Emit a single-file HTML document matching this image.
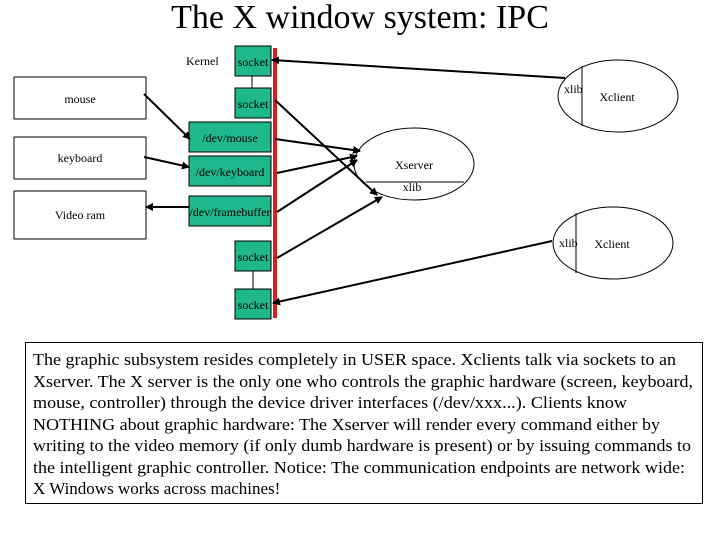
<!DOCTYPE html>
<html><head><style>
body{margin:0;background:#fff;}
svg{display:block;font-family:"Liberation Serif",serif;}
</style></head><body>
<svg width="720" height="540" viewBox="0 0 720 540" xmlns="http://www.w3.org/2000/svg">
<defs>
<marker id="a" markerWidth="8" markerHeight="8" refX="7" refY="4" orient="auto" markerUnits="userSpaceOnUse"><path d="M0,0 L8,4 L0,8 z" fill="#000"/></marker>
</defs>
<text x="360" y="28" font-size="34" text-anchor="middle">The X window system: IPC</text>
<text x="186" y="65" font-size="12">Kernel</text>
<g fill="#fff" stroke="#000" stroke-width="1">
<rect x="14" y="77" width="132" height="42"/>
<rect x="14" y="137" width="132" height="42"/>
<rect x="14" y="191" width="132" height="48"/>
</g>
<g font-size="12" text-anchor="middle">
<text x="80" y="103">mouse</text>
<text x="80" y="162">keyboard</text>
<text x="80" y="219">Video ram</text>
</g>
<line x1="252" y1="76" x2="252" y2="88" stroke="#000"/>
<line x1="253" y1="271" x2="253" y2="289" stroke="#000"/>
<g fill="#1fb88c" stroke="#000" stroke-width="1">
<rect x="235" y="46" width="36" height="30"/>
<rect x="235" y="88" width="36" height="30"/>
<rect x="189" y="122" width="82" height="30"/>
<rect x="189" y="156" width="82" height="30"/>
<rect x="189" y="196" width="82" height="30"/>
<rect x="235" y="241" width="36" height="30"/>
<rect x="235" y="289" width="36" height="30"/>
</g>
<g font-size="12" text-anchor="middle">
<text x="253" y="66">socket</text>
<text x="253" y="108">socket</text>
<text x="230" y="142">/dev/mouse</text>
<text x="230" y="176">/dev/keyboard</text>
<text x="230" y="216">/dev/framebuffer</text>
<text x="253" y="261">socket</text>
<text x="253" y="309">socket</text>
</g>
<rect x="273" y="48" width="4" height="270" fill="#d42020"/>
<g stroke="#000" stroke-width="2" fill="none" marker-end="url(#a)">
<line x1="144" y1="94" x2="190" y2="139"/>
<line x1="144" y1="157" x2="189" y2="167"/>
<line x1="189" y1="207" x2="146" y2="207"/>
<line x1="275" y1="139" x2="360" y2="151"/>
<line x1="277" y1="173" x2="357" y2="156"/>
<line x1="277" y1="212" x2="357" y2="160"/>
<line x1="275" y1="100" x2="377" y2="195"/>
<line x1="277" y1="258" x2="382" y2="197"/>
<line x1="565" y1="78" x2="272" y2="60"/>
<line x1="552" y1="241" x2="273" y2="303"/>
</g>
<g fill="none" stroke="#000" stroke-width="1">
<ellipse cx="414" cy="164" rx="60" ry="36"/>
<line x1="366" y1="182" x2="464" y2="182"/>
<ellipse cx="618" cy="96" rx="60" ry="36"/>
<line x1="582" y1="66" x2="582" y2="126"/>
<ellipse cx="613" cy="243" rx="60" ry="36"/>
<line x1="576" y1="213" x2="576" y2="273"/>
</g>
<g font-size="12">
<text x="414" y="169" text-anchor="middle">Xserver</text>
<text x="412" y="191" text-anchor="middle">xlib</text>
<text x="564" y="93">xlib</text>
<text x="617" y="101" text-anchor="middle">Xclient</text>
<text x="559" y="247">xlib</text>
<text x="612" y="248" text-anchor="middle">Xclient</text>
</g>
<rect x="25.5" y="342.5" width="677" height="161" fill="#fff" stroke="#000"/>
<g font-size="17">
<text x="33" y="365" textLength="643" lengthAdjust="spacingAndGlyphs">The graphic subsystem resides completely in USER space. Xclients talk via sockets to an</text>
<text x="33" y="387" textLength="660" lengthAdjust="spacingAndGlyphs">Xserver. The X server is the only one who controls the graphic hardware (screen, keyboard,</text>
<text x="33" y="408" textLength="594" lengthAdjust="spacingAndGlyphs">mouse, controller) through the device driver interfaces (/dev/xxx...).  Clients know</text>
<text x="33" y="430" textLength="627" lengthAdjust="spacingAndGlyphs">NOTHING about graphic hardware: The Xserver will render every command either by</text>
<text x="33" y="451" textLength="658" lengthAdjust="spacingAndGlyphs">writing to the video memory (if only dumb hardware is present) or by issuing commands to</text>
<text x="33" y="473" textLength="652" lengthAdjust="spacingAndGlyphs">the intelligent graphic controller. Notice: The communication endpoints are network wide:</text>
<text x="33" y="494">X Windows works across machines!</text>
</g>
</svg>
</body></html>
